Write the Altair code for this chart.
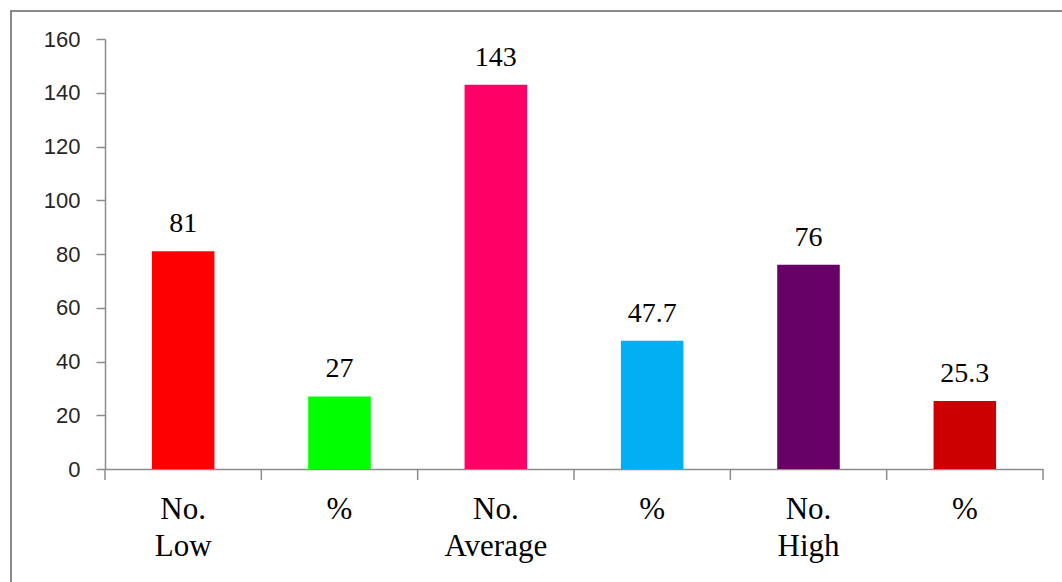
import altair as alt
import pandas as pd

categories = ["No. Low", "% Low", "No. Average", "% Average", "No. High", "% High"]
values = [81, 27, 143, 47.7, 76, 25.3]
colors = ["#FF0000", "#00FF00", "#FF0066", "#00B0F0", "#660066", "#CC0000"]
y_ticks = [0, 20, 40, 60, 80, 100, 120, 140, 160]

df = pd.DataFrame({"cat": categories, "value": values})

W, H = 938, 430
PAD = {"left": 105, "top": 39, "right": 19, "bottom": 113}
AXIS_GRAY = "#8c8c8c"
TICK = 11

x_enc = alt.X(
    "cat:N",
    sort=categories,
    scale=alt.Scale(paddingInner=0, paddingOuter=0),
    axis=alt.Axis(
        title=None,
        orient="bottom",
        labelAngle=0,
        labelExpr="indexof(datum.value, '%') == 0 ? '%' : split(datum.value, ' ')",
        labelFont="Liberation Serif",
        labelFontSize=31,
        labelColor="#000000",
        labelLineHeight=37,
        labelBaseline="top",
        labelPadding=25,
        ticks=False,
        domainColor=AXIS_GRAY,
        domainWidth=1.5,
        grid=False,
    ),
)

y_enc = alt.Y(
    "value:Q",
    scale=alt.Scale(domain=[0, 160], nice=False),
    axis=alt.Axis(
        title=None,
        values=y_ticks,
        labelFont="Liberation Sans",
        labelFontSize=22,
        labelColor="#262626",
        labelPadding=16,
        tickSize=9,
        tickColor=AXIS_GRAY,
        tickWidth=1.5,
        domainColor=AXIS_GRAY,
        domainWidth=1.5,
        grid=False,
    ),
)

bars = alt.Chart(df).mark_bar(width={"band": 0.4}).encode(
    x=x_enc,
    y=y_enc,
    color=alt.Color("cat:N", scale=alt.Scale(domain=categories, range=colors), legend=None),
)

labels = alt.Chart(df).mark_text(
    font="Liberation Serif", fontSize=28, color="#000000", baseline="alphabetic", dy=-19
).encode(
    x=alt.X("cat:N", sort=categories),
    y=alt.Y("value:Q"),
    text=alt.Text("value:Q", format="~g"),
)

# category separator ticks below the x axis (band edges)
sep_start = alt.Chart(df).mark_rule(color=AXIS_GRAY, strokeWidth=1.5).encode(
    x=alt.X("cat:N", sort=categories, bandPosition=0),
    y=alt.value(H),
    y2=alt.value(H + TICK),
)
sep_end = alt.Chart(df.tail(1)).mark_rule(color=AXIS_GRAY, strokeWidth=1.5).encode(
    x=alt.X("cat:N", sort=categories, bandPosition=1),
    y=alt.value(H),
    y2=alt.value(H + TICK),
)

border = alt.Chart(pd.DataFrame({"a": [0]})).mark_rect(
    fill="transparent", stroke="#8a8a8a", strokeWidth=2
).encode(
    x=alt.value(-94),
    x2=alt.value(W + PAD["right"] + 6),
    y=alt.value(-28),
    y2=alt.value(H + PAD["bottom"] + 6),
)

chart = alt.layer(bars, labels, sep_start, sep_end, border).properties(
    width=W,
    height=H,
    padding=PAD,
    autosize=alt.AutoSizeParams(type="none"),
    background="white",
).configure_view(stroke=None)

chart.save("out.html", embed_options={"renderer": "svg", "actions": False})
